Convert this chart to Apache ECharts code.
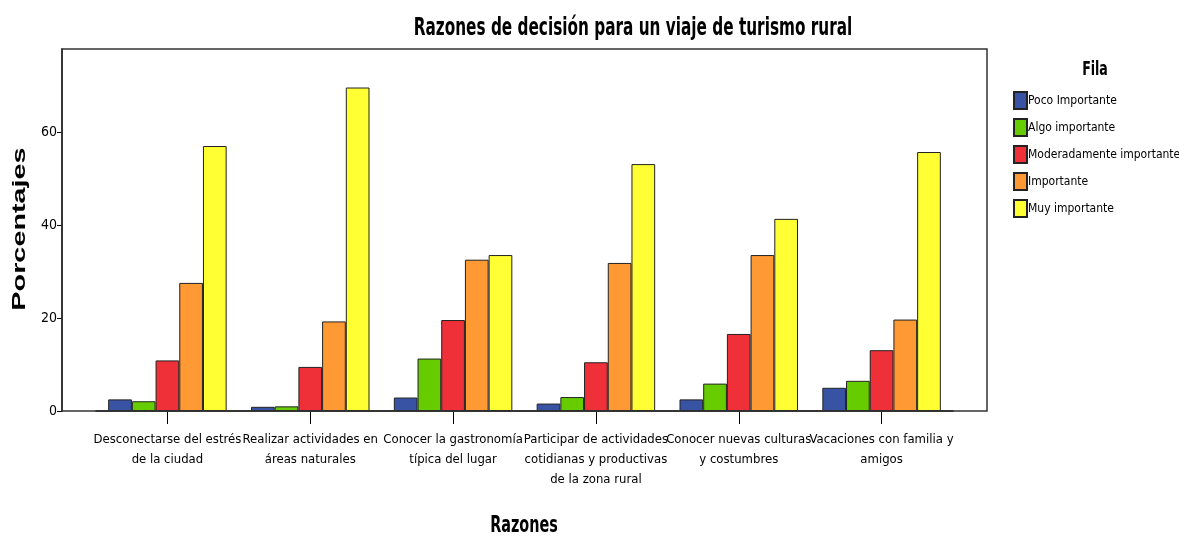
<!DOCTYPE html>
<html>
<head>
<meta charset="utf-8">
<script src="https://cdn.jsdelivr.net/npm/echarts@6/dist/echarts.min.js"></script>
<style>
  html, body { margin: 0; padding: 0; background: #fff; }
  #chart { width: 1179px; height: 537px; }
</style>
</head>
<body>
<div id="chart"></div>
<script>
// categorías del eje x
const categories = [
  "Desconectarse del estrés\nde la ciudad",
  "Realizar actividades en\náreas naturales",
  "Conocer la gastronomía\ntípica del lugar",
  "Participar de actividades\ncotidianas y productivas\nde la zona rural",
  "Conocer nuevas culturas\ny costumbres",
  "Vacaciones con familia y\namigos"
];
const seriesNames = ["Poco Importante", "Algo importante", "Moderadamente importante", "Importante", "Muy importante"];
const pocoImportante = [2.5, 0.9, 2.9, 1.6, 2.5, 5.0];
const algoImportante = [2.1, 1.0, 11.3, 3.0, 5.9, 6.5];
const moderadamente = [10.9, 9.5, 19.6, 10.5, 16.6, 13.1];
const importante = [27.6, 19.3, 32.6, 31.9, 33.6, 19.7];
const muyImportante = [57.1, 69.7, 33.6, 53.2, 41.4, 55.8];
const yTicks = [0, 20, 40, 60];
const colors = ["#3953a4", "#66cc00", "#ef3038", "#ff9933", "#ffff33"];

const narrow = "'DejaVu Sans Condensed', 'Liberation Sans Narrow', sans-serif";
const allData = [pocoImportante, algoImportante, moderadamente, importante, muyImportante];

const chart = echarts.init(document.getElementById("chart"));

const series = seriesNames.map((name, i) => ({
  name: name,
  type: "bar",
  data: allData[i],
  barWidth: 23.7,
  barGap: "0%",
  itemStyle: { color: colors[i], borderColor: "#222", borderWidth: 1 }
}));

// texto estirado en vertical, como en la imagen original
function tallText(text, x, y, size, scale) {
  return {
    type: "text",
    x: x,
    y: y,
    scaleY: scale,
    style: {
      text: text,
      fontFamily: narrow,
      fontWeight: "bold",
      fontSize: size,
      fill: "#000",
      align: "center",
      verticalAlign: "middle"
    }
  };
}

const option = {
  animation: false,
  legend: {
    orient: "vertical",
    left: 1013,
    top: 91,
    itemWidth: 13,
    itemHeight: 17,
    itemGap: 8,
    padding: 0,
    icon: "rect",
    textStyle: { fontFamily: narrow, fontSize: 12, color: "#000", padding: [0, 0, 0, -4] },
    data: seriesNames
  },
  grid: { left: 96, right: 226, top: 49, bottom: 126, outerBoundsMode: "none" },
  xAxis: {
    type: "category",
    data: categories,
    axisLine: { lineStyle: { color: "#000", width: 1.5 } },
    axisTick: { show: true, alignWithLabel: true, length: 13, lineStyle: { color: "#000" } },
    axisLabel: { interval: 0, margin: 19, fontFamily: narrow, fontSize: 13, lineHeight: 20, color: "#000" }
  },
  yAxis: {
    type: "value",
    min: 0,
    max: 78,
    offset: 34,
    axisLine: { show: true, lineStyle: { color: "#000", width: 1.5 } },
    axisTick: { show: true, length: 5, customValues: yTicks, lineStyle: { color: "#000" } },
    axisLabel: { customValues: yTicks, margin: 5, fontFamily: narrow, fontSize: 14, color: "#000" },
    splitLine: { show: false }
  },
  graphic: [
    {
      type: "rect",
      shape: { x: 62, y: 49, width: 925, height: 362 },
      style: { fill: null, stroke: "#333", lineWidth: 1.5 },
      silent: true,
      z: 10
    },
    tallText("Razones de decisión para un viaje de turismo rural", 633, 29, 17, 1.45),
    tallText("Razones", 524, 526, 16, 1.4),
    tallText("Fila", 1095, 70, 14, 1.4),
    {
      type: "text",
      x: 20,
      y: 229,
      rotation: Math.PI / 2,
      scaleX: 1.6,
      style: {
        text: "Porcentajes",
        fontFamily: "'Liberation Sans', Arial, sans-serif",
        fontWeight: "bold",
        fontSize: 18,
        fill: "#000",
        align: "center",
        verticalAlign: "middle"
      }
    }
  ],
  series: series
};

chart.setOption(option);
</script>
</body>
</html>
